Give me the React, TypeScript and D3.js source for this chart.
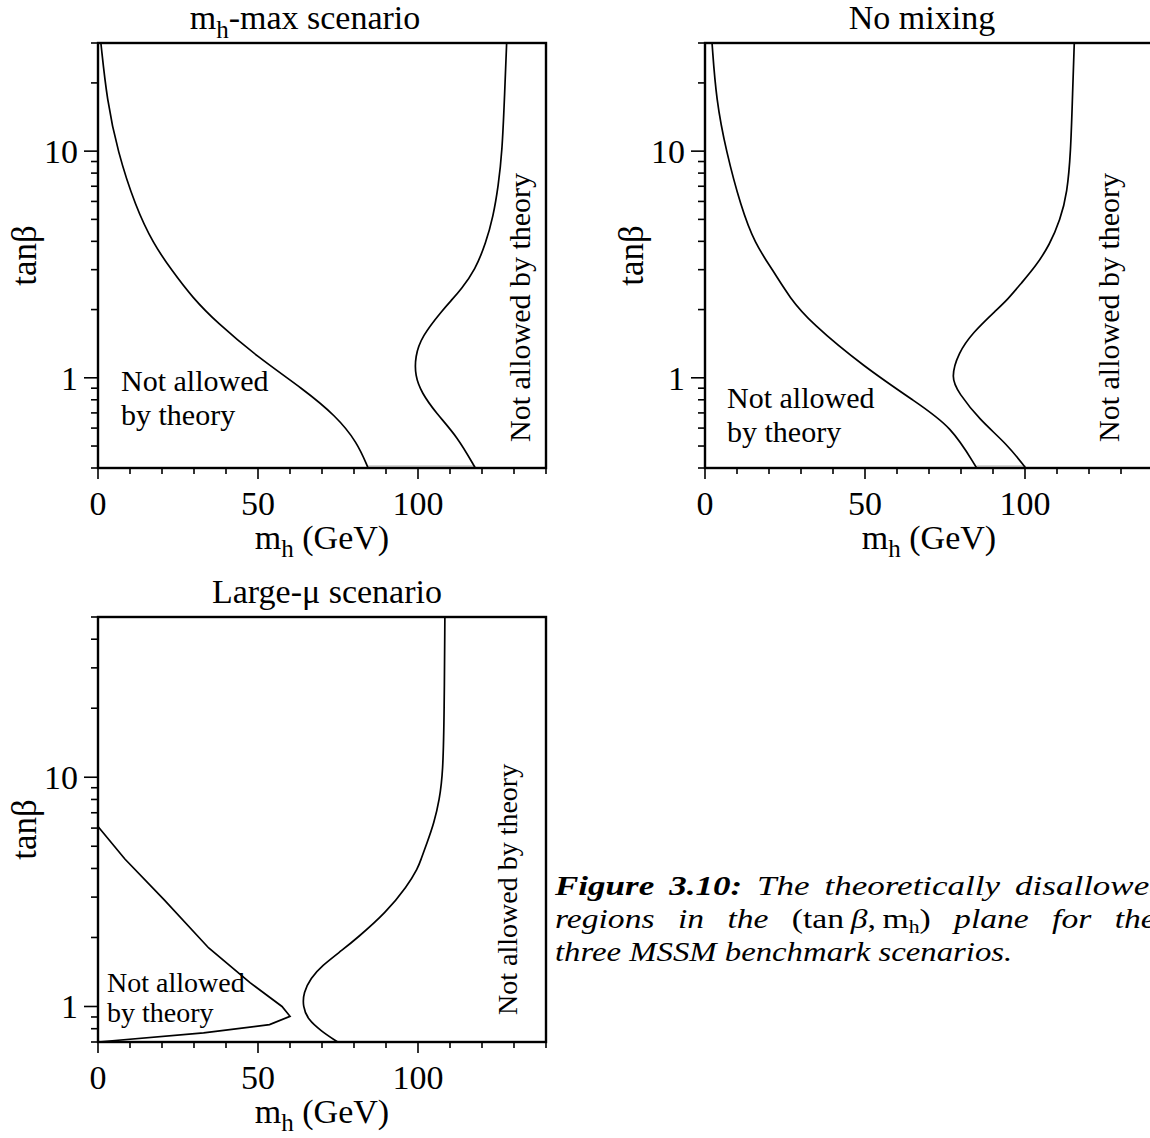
import React from 'react';
import * as d3 from 'd3';

// ---------- data (mh in GeV, tanβ) ----------
const xTickLabels = [0, 50, 100];
const yTickLabels = [1, 10];

const mhmaxLeft: [number, number][] = [
  [0.9, 30], [2.8, 16.8], [6.1, 10], [11.7, 5.7], [17.3, 3.9], [22.9, 3.0], [29.6, 2.25],
  [37.2, 1.75], [49.7, 1.24], [64.2, 0.89], [74.3, 0.68], [81, 0.52], [84.4, 0.4],
];
const mhmaxRight: [number, number][] = [
  [127.7, 30], [127, 16.8], [126.3, 10], [125.1, 7], [123.5, 5.15], [121.2, 3.93], [117.9, 3.0],
  [113.4, 2.45], [110.6, 2.21], [107.8, 2.0], [101.1, 1.52], [99.1, 1.24], [99.1, 1.02],
  [101.1, 0.86], [105.6, 0.7], [112.3, 0.55], [117.9, 0.4],
];
const nomixLeft: [number, number][] = [
  [2.2, 30], [3.5, 16.8], [6.6, 10], [11.2, 5.7], [15.6, 3.9], [21.1, 3.0], [26.5, 2.25],
  [33.1, 1.75], [49.6, 1.12], [66, 0.78], [77, 0.61], [84.9, 0.4],
];
const nomixRight: [number, number][] = [
  [115.4, 30], [114.8, 16.8], [114.3, 10], [113.2, 6.53], [111, 4.98], [107.7, 3.86], [103.3, 3.1],
  [98.9, 2.62], [94.5, 2.21], [91.2, 2.0], [83.6, 1.58], [79.2, 1.29], [76.8, 1.0], [79.2, 0.86],
  [85.7, 0.655], [94.5, 0.508], [100.2, 0.4],
];
const largeMuLeft: [number, number][] = [
  [0, 6.1], [8.4, 4.4], [20.7, 2.92], [34.6, 1.8], [47.5, 1.27], [57.5, 1.0], [60, 0.906],
  [53.6, 0.834], [33, 0.767], [0, 0.7],
];
const largeMuRight: [number, number][] = [
  [108.4, 50], [108.2, 19], [107.8, 10.4], [106.7, 8], [105, 6.3], [102.8, 5.16], [100.9, 4.37],
  [100, 4.02], [96.6, 3.34], [89.9, 2.56], [81, 1.99], [76.5, 1.77], [69.8, 1.5], [66.5, 1.33],
  [64.2, 1.15], [64, 1.0], [65.6, 0.877], [69.8, 0.78], [74.9, 0.7],
];

const xDomain: [number, number] = [0, 140];
const yDomainTop: [number, number] = [0.4, 30];
const yDomainBottom: [number, number] = [0.7, 50];

const FONT = '"Liberation Serif", "Times New Roman", Times, serif';

type Curve = { pts: [number, number][]; smooth: boolean };

function Panel(props: {
  x0: number; x1: number; y0: number; y1: number; yDomain: [number, number];
  curves: Curve[]; connect?: [[number, number], [number, number]];
}) {
  const { x0, x1, y0, y1, yDomain, curves, connect } = props;
  const x = d3.scaleLinear().domain(xDomain).range([x0, x1]);
  const y = d3.scaleLog().domain(yDomain).range([y1, y0]);
  const yTicks = y.ticks();
  const xTicks = x.ticks(14);
  const lineGen = (smooth: boolean) =>
    d3.line<[number, number]>()
      .x(d => x(d[0]))
      .y(d => y(d[1]))
      .curve(smooth ? d3.curveBasis : d3.curveLinear);
  return (
    <g>
      {connect && (
        <line x1={x(connect[0][0])} x2={x(connect[1][0])} y1={y(connect[0][1]) - 2} y2={y(connect[1][1]) - 2}
          stroke="#b0b0b0" strokeWidth={1.2} />
      )}
      {curves.map((c, i) => (
        <path key={i} d={lineGen(c.smooth)(c.pts) || ''} fill="none" stroke="#000" strokeWidth={1.7} />
      ))}
      <rect x={x0} y={y0} width={x1 - x0} height={y1 - y0} fill="none" stroke="#000" strokeWidth={2.4} />
      {yTicks.map((t, i) => {
        const major = yTickLabels.includes(t);
        return (
          <line key={'y' + i} x1={x0 - (major ? 14 : 7)} x2={x0} y1={y(t)} y2={y(t)} stroke="#000" strokeWidth={1.6} />
        );
      })}
      {xTicks.map((t, i) => {
        const major = xTickLabels.includes(t);
        return (
          <line key={'x' + i} x1={x(t)} x2={x(t)} y1={y1} y2={y1 + (major ? 11 : 6)} stroke="#000" strokeWidth={1.6} />
        );
      })}
      {yTickLabels.map(t => (
        <text key={'yl' + t} x={x0 - 20} y={y(t) + 12} fontSize={34} textAnchor="end">{t}</text>
      ))}
      {xTickLabels.map(t => (
        <text key={'xl' + t} x={x(t)} y={y1 + 47} fontSize={34} textAnchor="middle">{t}</text>
      ))}
      <text x={(x0 + x1) / 2} y={y1 + 81} fontSize={34} textAnchor="middle">
        m<tspan fontSize={25} dy={8}>h</tspan><tspan dy={-8}> (GeV)</tspan>
      </text>
      <text transform={`translate(${x0 - 62},${(y0 + y1) / 2}) rotate(-90)`} fontSize={35} textAnchor="middle">tanβ</text>
    </g>
  );
}

export default function App() {
  return (
    <svg width={1150} height={1138} style={{ position: 'absolute', left: 0, top: 0, background: '#fff' }}
      fontFamily={FONT}>
      <rect width={1150} height={1138} fill="#fff" />

      {/* Panel 1: mh-max */}
      <Panel x0={98} x1={546} y0={43} y1={468} yDomain={yDomainTop}
        curves={[{ pts: mhmaxLeft, smooth: true }, { pts: mhmaxRight, smooth: true }]}
        connect={[mhmaxLeft[mhmaxLeft.length - 1], mhmaxRight[mhmaxRight.length - 1]]} />
      <text x={305} y={29} fontSize={34} textAnchor="middle">
        m<tspan fontSize={25} dy={9}>h</tspan><tspan dy={-9}>-max scenario</tspan>
      </text>
      <text x={121} y={391} fontSize={30}>Not allowed</text>
      <text x={121} y={425} fontSize={30}>by theory</text>
      <text transform="translate(530,442) rotate(-90)" fontSize={30}>Not allowed by theory</text>

      {/* Panel 2: No mixing */}
      <Panel x0={705} x1={1153} y0={43} y1={468} yDomain={yDomainTop}
        curves={[{ pts: nomixLeft, smooth: true }, { pts: nomixRight, smooth: true }]}
        connect={[nomixLeft[nomixLeft.length - 1], nomixRight[nomixRight.length - 1]]} />
      <text x={922} y={29} fontSize={34} textAnchor="middle">No mixing</text>
      <text x={727} y={408} fontSize={30}>Not allowed</text>
      <text x={727} y={442} fontSize={30}>by theory</text>
      <text transform="translate(1119,442) rotate(-90)" fontSize={30}>Not allowed by theory</text>

      {/* Panel 3: Large-mu */}
      <Panel x0={98} x1={546} y0={617} y1={1042} yDomain={yDomainBottom}
        curves={[{ pts: largeMuLeft, smooth: false }, { pts: largeMuRight, smooth: true }]} />
      <text x={327} y={603} fontSize={34} textAnchor="middle">Large-μ scenario</text>
      <text x={107} y={992} fontSize={28}>Not allowed</text>
      <text x={107} y={1022} fontSize={28}>by theory</text>
      <text transform="translate(517,1015) rotate(-90)" fontSize={28}>Not allowed by theory</text>

      {/* Caption */}
      <g fontStyle="italic" fontSize={28}>
        <text transform="translate(555,895) scale(1.25,1)" style={{ wordSpacing: '5px' }}>
          <tspan fontWeight="bold">Figure 3.10:</tspan><tspan> The theoretically disallowed</tspan>
        </text>
        <text transform="translate(555,928) scale(1.2,1)" style={{ wordSpacing: '12.5px' }}>
          regions in the <tspan fontStyle="normal">(tan{'\u2009'}</tspan>β<tspan fontStyle="normal">,{'\u2009'}m</tspan>
          <tspan fontStyle="normal" fontSize={18} dy={5}>h</tspan><tspan fontStyle="normal" dy={-5}>)</tspan> plane for the
        </text>
        <text transform="translate(555,961) scale(1.17,1)">three MSSM benchmark scenarios.</text>
      </g>
    </svg>
  );
}
